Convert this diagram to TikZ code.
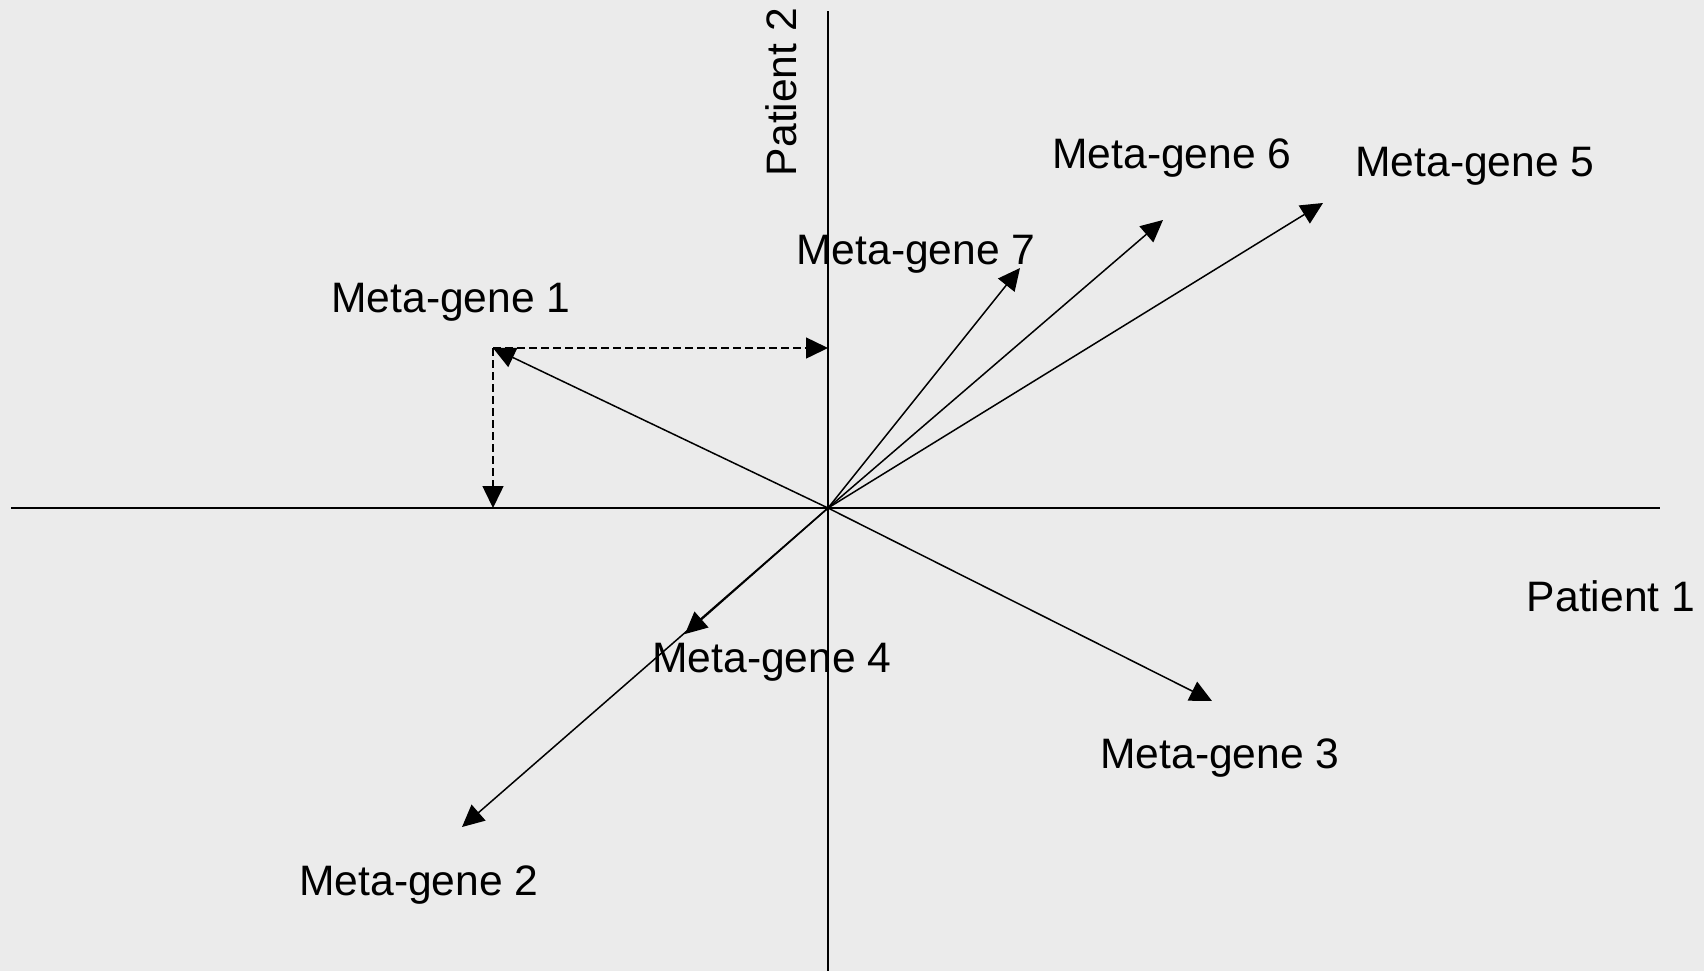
\documentclass[tikz,border=0pt]{standalone}
\usepackage{fontspec}
\setmainfont{Liberation Sans}
\usetikzlibrary{arrows.meta}
\definecolor{bg}{HTML}{EBEBEB}
\begin{document}
\begin{tikzpicture}[x=0.5pt,y=-0.5pt,
  axis/.style={line width=0.75pt},
  vec/.style={line width=0.75pt,-{Triangle[length=11pt,width=10.5pt]}},
  proj/.style={line width=0.75pt,dash pattern=on 4pt off 2pt,-{Triangle[length=11pt,width=10.5pt]}},
  lbl/.style={font=\fontsize{21.3}{25}\selectfont,inner sep=0pt}]
\fill[bg] (0,0) rectangle (1704,971);
\useasboundingbox (0,0) rectangle (1704,971);
% axes
\coordinate (xl) at (11,508);
\coordinate (xr) at (1660,508);
\coordinate (yt) at (828,11);
\coordinate (yb) at (828,971);
\coordinate (O) at (828,508);
\draw[axis] (xl) -- (xr);
\draw[axis] (yt) -- (yb);
% tips
\coordinate (m1) at (493,348);
\coordinate (m2) at (462,827);
\coordinate (m3) at (1212,701);
\coordinate (m4) at (685,634);
\coordinate (m5) at (1323,203);
\coordinate (m6) at (1163,220);
\coordinate (m7) at (1020,268);
\coordinate (p1x) at (493,508);
\coordinate (p1y) at (828,348);
% projections
\draw[proj] (m1) -- (p1y);
\draw[proj] (m1) -- (p1x);
% vectors
\foreach \t in {m1,m2,m3,m4,m5,m6,m7} \draw[vec] (O) -- (\t);
% labels
\node[lbl] (l1) at (451,302) {Meta-gene 1};
\node[lbl] (l2) at (419,885) {Meta-gene 2};
\node[lbl] (l3) at (1220,758) {Meta-gene 3};
\node[lbl] (l4) at (772,662) {Meta-gene 4};
\node[lbl] (l5) at (1475,166) {Meta-gene 5};
\node[lbl] (l6) at (1172,158) {Meta-gene 6};
\node[lbl] (l7) at (916,254) {Meta-gene 7};
\node[lbl] (pa1) at (1611,596) {Patient 1};
\node[lbl,rotate=90] (pa2) at (781,92) {Patient 2};
\end{tikzpicture}
\end{document}
